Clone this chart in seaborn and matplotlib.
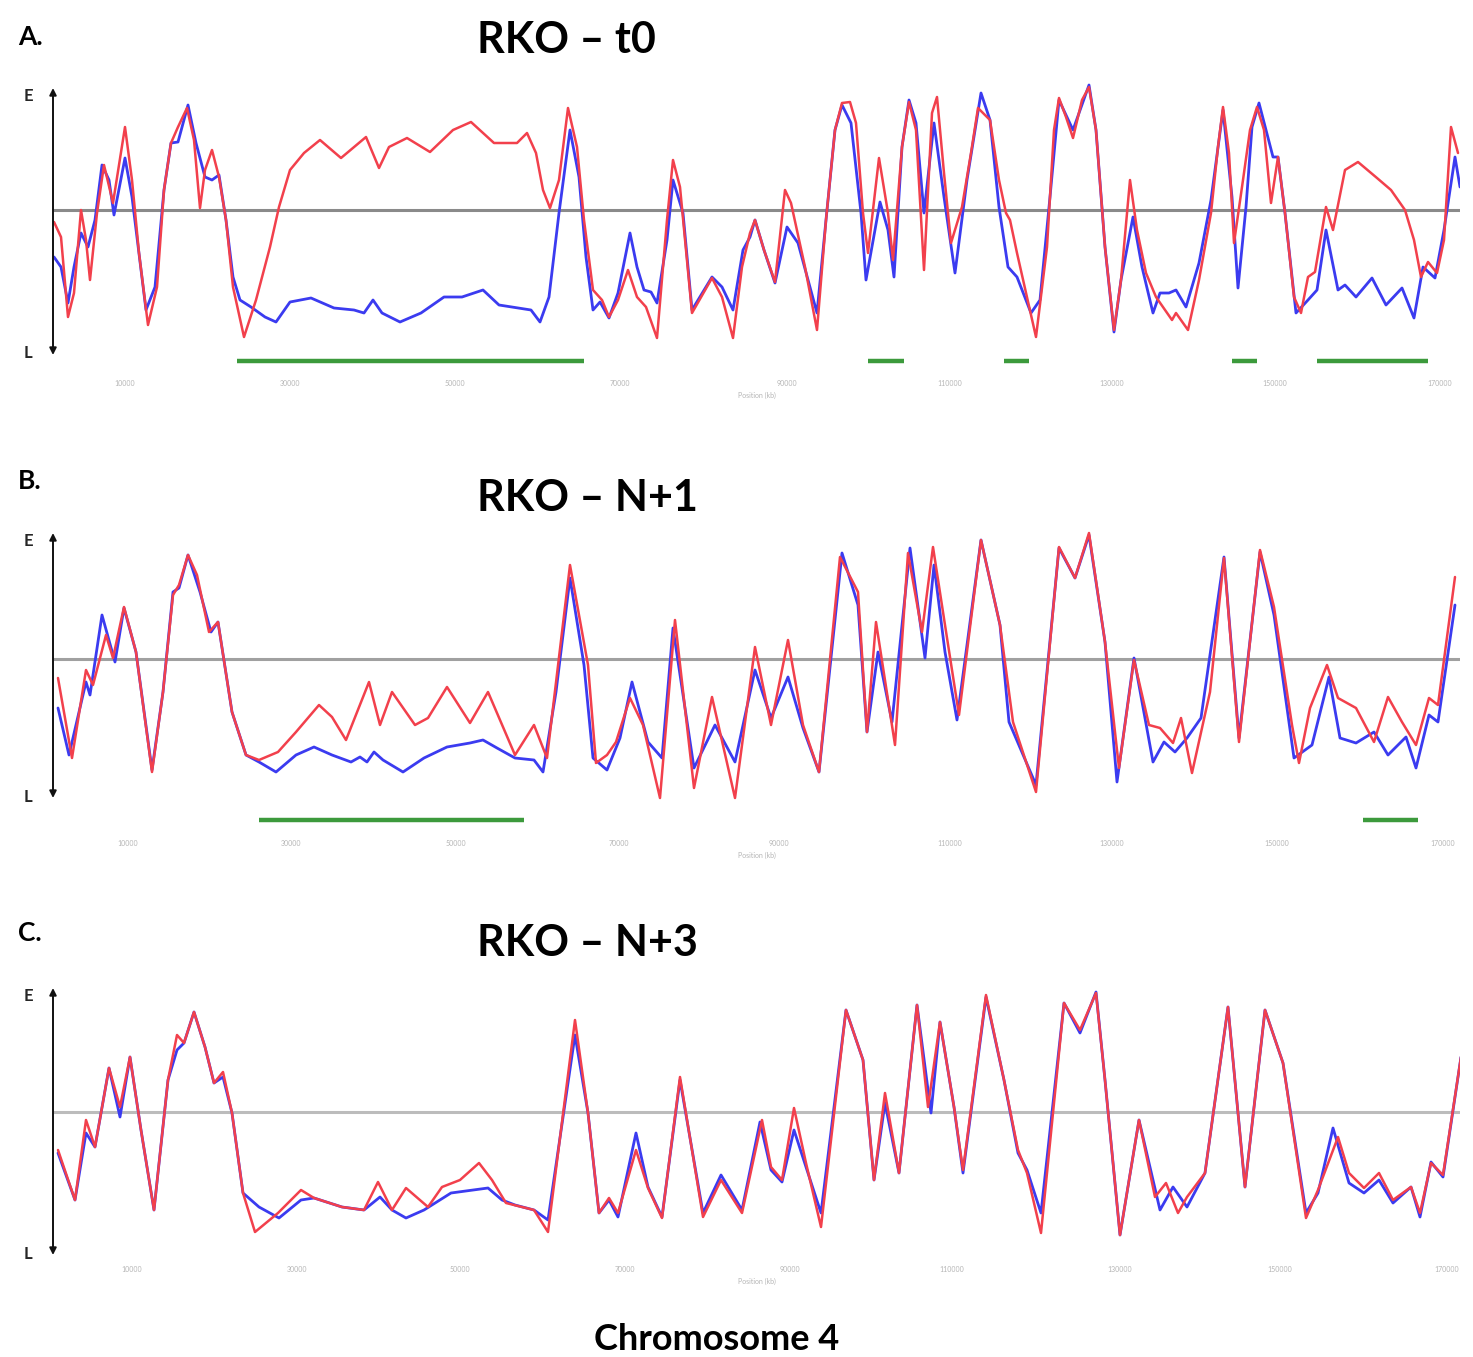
import matplotlib
matplotlib.use("Agg")
import matplotlib.pyplot as plt
import seaborn as sns
import pandas as pd

sns.set_style("white")
plt.rcParams["font.family"] = ["Lato", "DejaVu Sans"]
plt.rcParams["lines.solid_joinstyle"] = "round"
plt.rcParams["lines.solid_capstyle"] = "round"

# ---------------- data (position in bins along chromosome 4, relative timing value) -------------
a_red_pos = [1, 8, 15, 21, 28, 33, 37, 44, 51, 60, 72, 79, 86, 95, 104, 111, 118, 125, 134, 141, 147, 152, 159, 166,
             173, 180, 191, 203, 217, 226, 237, 251, 267, 288, 313, 326, 336, 354, 377, 400, 418, 441, 464, 474, 483,
             490, 497, 506, 515, 524, 531, 540, 549, 556, 565, 575, 584, 593, 604, 614, 620, 627, 639, 659, 669, 680,
             689, 697, 702, 711, 722, 732, 738, 752, 764, 773, 782, 789, 797, 803, 810, 815, 826, 835, 840, 849, 856,
             863, 871, 879, 884, 891, 898, 909, 918, 925, 937, 946, 953, 957, 964, 974, 983, 994, 1001, 1006, 1013,
             1020, 1029, 1036, 1043, 1052, 1061, 1068, 1077, 1084, 1093, 1103, 1112, 1119, 1123, 1135, 1146, 1158,
             1165, 1170, 1176, 1181, 1190, 1197, 1204, 1211, 1218, 1225, 1232, 1241, 1248, 1255, 1262, 1273, 1280,
             1292, 1305, 1324, 1338, 1352, 1361, 1368, 1375, 1384, 1391, 1398, 1405]
a_red_val = [-12, -27, -107, -83, 0, -30, -70, -3, 45, 7, 83, 30, -43, -115, -77, 20, 67, 83, 102, 70, 2, 40, 60, 33,
             -10, -77, -127, -90, -37, 3, 40, 57, 70, 52, 73, 42, 63, 72, 58, 80, 88, 67, 67, 77, 57,
             20, 2, 30, 102, 63, -10, -80, -90, -107, -90, -60, -87, -97, -128, -10, 50, 23, -103, -68, -87, -128,
             -57, -23, -10, -40, -72, 20, 7, -57, -120, -10, 80, 107, 108, 87, -3, -43, 52, -3, -50, 63, 108,
             80, -60, 97, 113, 37, -33, 3, 57, 102, 90, 30, -3, -10, -43, -87, -127, -37, 80, 112, 93,
             72, 110, 123, 80, -37, -120, -70, 30, -20, -63, -87, -100, -110, -103, -120, -70, -3,
             63, 103, 57, -33, 30, 80, 103, 80, 7, 53, -3, -87, -103, -67, -62, 3, -20,
             40, 48, 32, 20, 0, -30, -67, -52, -63, -30, 83, 57]

a_blue_pos = [1, 8, 15, 21, 28, 35, 42, 49, 56, 61, 72, 79, 93, 102, 111, 118, 125, 135, 143, 152, 159, 166, 173, 180,
              187, 198, 212, 223, 237, 258, 281, 301, 311, 320, 329, 347, 368, 391, 409, 430, 446, 478, 487, 496, 506,
              517, 526, 533, 540, 547, 556, 565, 577, 584, 591, 598, 604, 614, 620, 630, 639, 659, 669, 680, 690,
              697, 702, 711, 722, 734, 745, 764, 773, 782, 789, 798, 808, 813, 827, 835, 841, 849, 856, 863, 871,
              881, 891, 902, 914, 928, 937, 946, 955, 964, 978, 987, 997, 1006, 1020, 1036, 1043, 1052, 1061, 1068,
              1080, 1089, 1100, 1107, 1116, 1123, 1133, 1146, 1158, 1170, 1179, 1185, 1193, 1199, 1206, 1213, 1220,
              1225, 1232, 1243, 1255, 1264, 1273, 1285, 1292, 1303, 1319, 1333, 1349, 1361, 1370, 1382, 1391, 1402,
              1407]
a_blue_val = [-47, -57, -93, -57, -23, -37, -10, 45, 30, -5, 52, 13, -100, -77, 20, 67, 68, 105, 67, 33, 30, 35, -10,
              -67, -90, -97, -107, -112, -92, -88, -98, -100, -103, -90, -103, -112, -103, -87, -87, -80, -95, -100,
              -112, -87, -3, 80, 33, -47, -100, -92, -108, -83, -23, -57, -80, -82, -93, -30, 30, -3, -100, -67, -77,
              -100, -40, -27, -10, -40, -73, -17, -33, -103, -10, 80, 105, 87, -3, -70, 8, -20, -67, 63, 110, 87, -3,
              87, 13, -63, 30, 117, 90, 3, -57, -67, -103, -90, 13, 110, 80, 125, 80, -37, -122, -70,
              -7, -57, -103, -83, -83, -80, -97, -53, 10, 100, 13, -78, 3, 83, 107, 80, 53,
              53, -3, -103, -90, -80, -20, -80, -75, -87, -68, -95, -78, -108, -57, -68, -20, 53,
              23]

a_green_start = [184, 815, 951, 1179, 1264]
a_green_end = [531, 851, 976, 1204, 1375]

b_red_pos = [5, 19, 33, 40, 53, 60, 71, 83, 99, 110, 120, 126, 135, 144, 156, 165, 179, 193, 206, 225, 243, 266, 279,
             293, 316, 327, 339, 362, 375, 394, 417, 435, 462, 481, 494, 517, 535, 543, 554, 563, 577, 590, 607, 622,
             641, 659, 682, 702, 718, 735, 750, 766, 787, 805, 814, 823, 842, 855, 869, 880, 892, 906, 928, 947, 960,
             983, 1006, 1022, 1036, 1052, 1066, 1081, 1096, 1107, 1120, 1128, 1139, 1157, 1171, 1186, 1207, 1221,
             1239, 1246, 1257, 1274, 1285, 1303, 1321, 1335, 1349, 1363, 1376, 1385, 1402]
b_red_val = [-19, -99, -11, -26, 24, 1, 52, 7, -113, -33, 64, 74, 104, 84, 27, 37, -53, -96, -101, -93, -73, -46, -58,
             -81, -23, -66, -33, -66, -59, -28, -64, -33, -96, -66, -99, 94, -6, -104, -96, -83, -39, -66, -139, 39,
             -129, -38, -139, 12, -66, 19, -66, -113, 102, 67, -73, 37, -86, 106, 27, 112, 34, -56, 119, 34, -63,
             -133, 112, 81, 126, 17, -109, -1, -66, -69, -84, -59, -114, -33, 101, -83, 109, 52,
             -66, -104, -49, -6, -39, -49, -83, -38, -63, -86, -39, -46, 82]

b_blue_pos = [5, 16, 33, 37, 49, 62, 71, 83, 99, 110, 120, 126, 135, 147, 158, 165, 179, 193, 206, 223, 243, 261, 279,
              298, 307, 314, 321, 330, 350, 371, 394, 417, 430, 444, 462, 481, 490, 503, 517, 531, 540, 554, 567, 579,
              595, 609, 620, 641, 662, 682, 702, 718, 735, 750, 766, 789, 805, 814, 825, 839, 857, 872, 881, 892,
              904, 928, 947, 956, 983, 1006, 1022, 1036, 1052, 1064, 1081, 1100, 1111, 1122, 1134, 1148, 1171, 1186,
              1207, 1221, 1241, 1259, 1276, 1287, 1303, 1321, 1335, 1353, 1363, 1376, 1385, 1402]
b_blue_val = [-49, -96, -23, -36, 44, -3, 51, 7, -111, -33, 67, 71, 104, 67, 27, 37, -53, -96, -103, -113, -96, -88,
              -96, -103, -98, -103, -93, -101, -113, -99, -88, -84, -81, -89, -99, -101, -113, -33, 81, -6, -99, -111,
              -79, -23, -83, -99, 31, -109, -66, -103, -11, -59, -18, -69, -113, 106, 54, -73, 7, -63, 111, 1, 94, 7,
              -61, 119, 34, -63, -126, 111, 81, 124, 17, -123, 1, -103, -83, -93, -79, -59, 102, -79,
              107, 44, -99, -86, -18, -79, -84, -73, -96, -78, -109, -56, -63, 54]

b_green_start = [206, 1310]
b_green_end = [471, 1365]

c_red_pos = [5, 22, 33, 42, 56, 67, 77, 88, 101, 115, 124, 131, 141, 152, 161, 170, 179, 190, 202, 225, 248, 261, 289,
             311, 325, 339, 353, 375, 389, 407, 426, 439, 453, 481, 495, 522, 535, 546, 556, 565, 583, 595, 609, 627,
             650, 668, 689, 709, 718, 729, 741, 753, 768, 793, 810, 821, 832, 846, 864, 875, 887, 901, 910, 933, 951,
             965, 974, 988, 1011, 1027, 1043, 1052, 1067, 1086, 1102, 1113, 1125, 1134, 1152, 1175, 1192, 1212, 1230,
             1253, 1265, 1285, 1296, 1311, 1326, 1340, 1358, 1367, 1378, 1390, 1408]
c_red_val = [-38, -88, -8, -35, 44, 5, 55, -18, -98, 32, 77, 69, 100, 65, 29, 40, -1, -81, -120, -101, -78, -86, -95,
             -98, -70, -98, -76, -95, -75, -68, -51, -68, -91, -98, -120, 92, -1, -101, -86, -101, -38, -76, -106, 35,
             -105, -68, -101, -8, -55, -68, 4, -51, -115, 102, 52, -68, 19, -61, 107, 5, 90, 5, -58, 117, 32,
             -38, -61, -121, 109, 82, 119, 32, -123, -8, -85, -71, -101, -85, -61, 105, -75, 102, 49,
             -106, -78, -25, -61, -76, -61, -88, -75, -101, -51, -63, 55]

c_blue_pos = [5, 22, 33, 42, 56, 67, 77, 88, 101, 115, 124, 131, 141, 152, 161, 170, 179, 190, 206, 226, 248, 261, 289,
              311, 327, 339, 353, 371, 398, 435, 449, 462, 481, 495, 522, 535, 546, 556, 565, 583, 595, 609, 627, 650,
              668, 689, 707, 718, 729, 741, 753, 768, 793, 810, 821, 832, 846, 864, 878, 887, 901, 910, 933, 951, 965,
              974, 988, 1011, 1027, 1043, 1052, 1067, 1086, 1107, 1120, 1134, 1152, 1175, 1192, 1212, 1230, 1253,
              1265, 1280, 1296, 1311, 1326, 1340, 1358, 1367, 1378, 1390, 1408]
c_blue_val = [-41, -88, -21, -35, 44, -5, 55, -18, -98, 32, 62, 69, 100, 65, 29, 35, -1, -81, -95, -106, -88, -86, -95,
              -98, -85, -98, -106, -98, -81, -76, -88, -93, -98, -108, 77, -1, -101, -88, -105, -21, -75, -105, 32,
              -101, -63, -98, -10, -58, -70, -18, -55, -101, 102, 52, -68, 9, -61, 107, -1, 90, 5, -61, 115, 32, -41,
              -58, -101, 109, 79, 120, 32, -123, -8, -98, -75, -95, -61, 105, -75, 102, 49, -101,
              -81, -16, -71, -81, -68, -91, -75, -105, -50, -65, 55]

tick_labels = ["10000", "30000", "50000", "70000", "90000", "110000", "130000", "150000", "170000"]
a_ticks = [72, 237, 402, 567, 734, 897, 1059, 1222, 1387]
b_ticks = [75, 238, 403, 566, 726, 897, 1059, 1224, 1390]
c_ticks = [79, 244, 407, 572, 737, 899, 1067, 1227, 1394]

titles = ["RKO \u2013 t0", "RKO \u2013 N+1", "RKO \u2013 N+3"]
letters = ["A.", "B.", "C."]

# ---------------- layout -------------
W, H = 1473, 1357
fig = plt.figure(figsize=(W / 100, H / 100), dpi=100)
fig.patch.set_facecolor("white")

RED = "#f2404c"
BLUE = "#3b3bf0"
GREEN = "#3c9a3c"

panels = [
    dict(top=80, zero=210, ymin=-166, red=(a_red_pos, a_red_val), blue=(a_blue_pos, a_blue_val),
         greens=(a_green_start, a_green_end), gy=-151, ticks=a_ticks, zc="#8a8a8a",
         arrow=(-145, 122), E=114, L=-143, title_y=40, letter_y=37),
    dict(top=529, zero=659, ymin=-177, red=(b_red_pos, b_red_val), blue=(b_blue_pos, b_blue_val),
         greens=(b_green_start, b_green_end), gy=-161, ticks=b_ticks, zc="#a0a0a0",
         arrow=(-139, 126), E=118, L=-138, title_y=498, letter_y=481),
    dict(top=982, zero=1112, ymin=-150, red=(c_red_pos, c_red_val), blue=(c_blue_pos, c_blue_val),
         greens=([], []), gy=-160, ticks=c_ticks, zc="#bcbcbc",
         arrow=(-143, 124), E=116, L=-142, title_y=943, letter_y=933),
]

x_left, x_right = 53, 1460
for i, p in enumerate(panels):
    ymax = 130
    bottom_px = p["zero"] - p["ymin"]
    ax = fig.add_axes([x_left / W, 1 - bottom_px / H, (x_right - x_left) / W, (bottom_px - p["top"]) / H])
    ax.set_xlim(0, x_right - x_left)
    ax.set_ylim(p["ymin"], ymax)
    for s in ax.spines.values():
        s.set_visible(False)
    ax.set_facecolor("white")

    ax.axhline(0, color=p["zc"], lw=2.2, zorder=1)

    dfb = pd.DataFrame({"pos": p["blue"][0], "val": p["blue"][1]})
    dfr = pd.DataFrame({"pos": p["red"][0], "val": p["red"][1]})
    sns.lineplot(data=dfb, x="pos", y="val", ax=ax, color=BLUE, lw=2.0, sort=False, estimator=None, zorder=3)
    sns.lineplot(data=dfr, x="pos", y="val", ax=ax, color=RED, lw=1.8, sort=False, estimator=None, zorder=4)

    for gs, ge in zip(*p["greens"]):
        ax.plot([gs, ge], [p["gy"], p["gy"]], color=GREEN, lw=3.2, solid_capstyle="butt", zorder=2)

    ax.annotate("", xy=(0, p["arrow"][1]), xytext=(0, p["arrow"][0]),
                arrowprops=dict(arrowstyle="<|-|>", color="#111111", lw=1.4, mutation_scale=10,
                                shrinkA=0, shrinkB=0), annotation_clip=False, zorder=5)
    ax.text(-25, p["E"], "E", fontsize=12, fontweight="bold", ha="center", va="center", clip_on=False)
    ax.text(-25, p["L"], "L", fontsize=12, fontweight="bold", ha="center", va="center", clip_on=False)

    ax.set_xticks(p["ticks"])
    ax.set_xticklabels(tick_labels, fontsize=5, color="#b5b5b5")
    ax.tick_params(axis="x", length=0, pad=3)
    ax.set_yticks([])
    ax.set_xlabel("Position (kb)", fontsize=5, color="#b5b5b5", labelpad=3)
    ax.set_ylabel("")
    ax.grid(False)

    fig.text(477 / W, 1 - p["title_y"] / H, titles[i], fontsize=31, fontweight="bold",
             ha="left", va="center", color="black")
    fig.text(18 / W, 1 - p["letter_y"] / H, letters[i], fontsize=19, fontweight="bold",
             ha="left", va="center", color="black")

fig.text(717 / W, 1 - 1340 / H, "Chromosome 4", fontsize=26, fontweight="bold", ha="center", va="center",
         color="black")

fig.savefig("out.png", dpi=100, facecolor="white")
